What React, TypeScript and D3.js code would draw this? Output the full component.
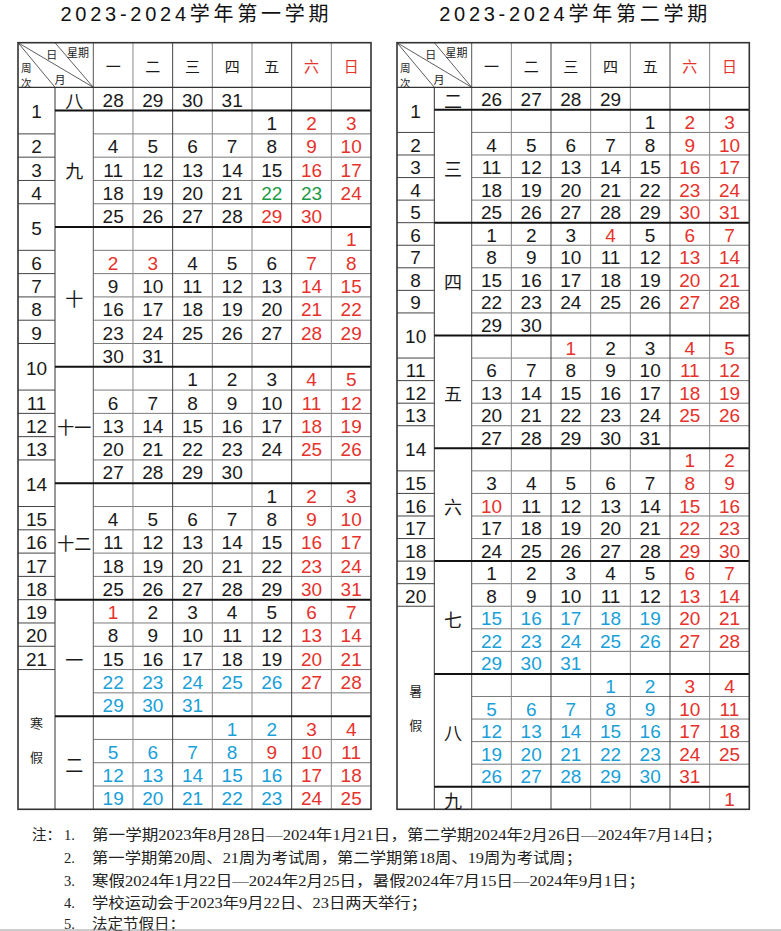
import React from "react";
import * as d3 from "d3";

// ---------- data ----------
const weekdayLabels = ["一", "二", "三", "四", "五", "六", "日"];
const redHeaderLabels = ["六", "日"];

const sem1Title = "2023-2024学年第一学期";
const sem1Months = ["八", "九", "十", "十一", "十二", "一", "二"];
const sem1FirstDay = [28, 1, 1, 1, 1, 1, 1];
const sem1LastDay = [31, 30, 31, 30, 31, 31, 25];
const sem1FirstCol = [0, 4, 6, 2, 4, 0, 3];
const sem1Red = [
  [],
  [2, 3, 9, 10, 16, 17, 24, 29, 30],
  [1, 2, 3, 7, 8, 14, 15, 21, 22, 28, 29],
  [4, 5, 11, 12, 18, 19, 25, 26],
  [2, 3, 9, 10, 16, 17, 23, 24, 30, 31],
  [1, 6, 7, 13, 14, 20, 21, 27, 28],
  [3, 4, 9, 10, 11, 17, 18, 24, 25],
];
const sem1Green = [[], [22, 23], [], [], [], [], []];
const sem1Blue = [
  [], [], [], [], [],
  [22, 23, 24, 25, 26, 29, 30, 31],
  [1, 2, 5, 6, 7, 8, 12, 13, 14, 15, 16, 19, 20, 21, 22, 23],
];
const sem1WeekLabels = ["1", "2", "3", "4", "5", "6", "7", "8", "9", "10", "11", "12", "13", "14", "15", "16", "17", "18", "19", "20", "21", "寒假"];
const sem1WeekSpans = [2, 1, 1, 1, 2, 1, 1, 1, 1, 2, 1, 1, 1, 2, 1, 1, 1, 1, 1, 1, 1, 6];

const sem2Title = "2023-2024学年第二学期";
const sem2Months = ["二", "三", "四", "五", "六", "七", "八", "九"];
const sem2FirstDay = [26, 1, 1, 1, 1, 1, 1, 1];
const sem2LastDay = [29, 31, 30, 31, 30, 31, 31, 1];
const sem2FirstCol = [0, 4, 0, 2, 5, 0, 3, 6];
const sem2Red = [
  [],
  [2, 3, 9, 10, 16, 17, 23, 24, 30, 31],
  [4, 6, 7, 13, 14, 20, 21, 27, 28],
  [1, 4, 5, 11, 12, 18, 19, 25, 26],
  [1, 2, 8, 9, 10, 15, 16, 22, 23, 29, 30],
  [6, 7, 13, 14, 20, 21, 27, 28],
  [3, 4, 10, 11, 17, 18, 24, 25, 31],
  [1],
];
const sem2Green = [[], [], [], [], [], [], [], []];
const sem2Blue = [
  [], [], [], [], [],
  [15, 16, 17, 18, 19, 22, 23, 24, 25, 26, 29, 30, 31],
  [1, 2, 5, 6, 7, 8, 9, 12, 13, 14, 15, 16, 19, 20, 21, 22, 23, 26, 27, 28, 29, 30],
  [],
];
const sem2WeekLabels = ["1", "2", "3", "4", "5", "6", "7", "8", "9", "10", "11", "12", "13", "14", "15", "16", "17", "18", "19", "20", "暑假"];
const sem2WeekSpans = [2, 1, 1, 1, 1, 1, 1, 1, 1, 2, 1, 1, 1, 2, 1, 1, 1, 1, 1, 1, 9];

const noteNumbers = ["1.", "2.", "3.", "4.", "5."];
const noteTexts = [
  "第一学期2023年8月28日—2024年1月21日，第二学期2024年2月26日—2024年7月14日；",
  "第一学期第20周、21周为考试周，第二学期第18周、19周为考试周；",
  "寒假2024年1月22日—2024年2月25日，暑假2024年7月15日—2024年9月1日；",
  "学校运动会于2023年9月22日、23日两天举行；",
  "法定节假日：",
];
const noteEnds = [722, 582, 645, 427, 185];

// ---------- styles ----------
const RED = "#e6322b";
const GREEN = "#1b9a46";
const BLUE = "#1a9fd8";
const BLACK = "#1a1a1a";
const NUM_FONT = "'Liberation Sans', Arial, Helvetica, sans-serif";
const CJK_FONT = "'Noto Sans CJK SC', 'Noto Sans', sans-serif";

const TOP = 42.7;
const HEADER_BOTTOM = 87.3;
const BOTTOM = 809.3;

type TableProps = {
  x0: number; xWeek: number; xMonth: number; x1: number;
  title: string; months: string[]; firstDay: number[]; lastDay: number[]; firstCol: number[];
  red: number[][]; green: number[][]; blue: number[][];
  weekLabels: string[]; weekSpans: number[];
};

function Table(p: TableProps) {
  const { x0, xWeek, xMonth, x1 } = p;
  let cursor = 0;
  const cells: { day: number; row: number; col: number; color: string }[] = [];
  const monthBlocks: { label: string; start: number; rows: number }[] = [];
  p.months.forEach((m, i) => {
    const days = d3.range(p.firstDay[i], p.lastDay[i] + 1);
    const nRows = Math.ceil((p.firstCol[i] + days.length) / 7);
    monthBlocks.push({ label: m, start: cursor, rows: nRows });
    days.forEach((d, k) => {
      const idx = p.firstCol[i] + k;
      let color = BLACK;
      if (p.red[i].includes(d)) color = RED;
      else if (p.green[i].includes(d)) color = GREEN;
      else if (p.blue[i].includes(d)) color = BLUE;
      cells.push({ day: d, row: cursor + Math.floor(idx / 7), col: idx % 7, color });
    });
    cursor += nRows;
  });
  const totalRows = cursor;
  const x = d3.scaleBand<number>().domain(d3.range(7)).range([xMonth, x1]);
  const y = d3.scaleLinear().domain([0, totalRows]).range([HEADER_BOTTOM, BOTTOM]);
  const bw = x.bandwidth();

  const monthBoundaries = new Set(monthBlocks.slice(1).map((b) => b.start));
  const weekBlocks: { label: string; start: number; rows: number }[] = [];
  let wc = 0;
  p.weekSpans.forEach((s, i) => {
    weekBlocks.push({ label: p.weekLabels[i], start: wc, rows: s });
    wc += s;
  });

  const cx = (x0 + x1) / 2;
  return (
    <g>
      <text x={cx} y={21} textAnchor="middle" fontFamily={`${NUM_FONT}, ${CJK_FONT}`} fontSize={20} fill="#111"
        textLength={268} lengthAdjust="spacing">{p.title}</text>

      {d3.range(1, totalRows).filter((r) => !monthBoundaries.has(r)).map((r) => (
        <line key={"h" + r} x1={xMonth} x2={x1} y1={y(r)} y2={y(r)} stroke="#7a7a7a" strokeWidth={1} />
      ))}
      {d3.range(1, 7).map((c) => (
        <line key={"v" + c} x1={x(c)} x2={x(c)} y1={TOP} y2={BOTTOM} stroke={c === 2 || c === 5 ? "#444" : "#888"} strokeWidth={1} />
      ))}
      <line x1={xMonth} x2={xMonth} y1={TOP} y2={BOTTOM} stroke="#555" strokeWidth={1} />
      <line x1={xWeek} x2={xWeek} y1={HEADER_BOTTOM} y2={BOTTOM} stroke="#333" strokeWidth={1} />
      {weekBlocks.slice(1).map((w) => (
        <line key={"w" + w.start} x1={x0} x2={xWeek} y1={y(w.start)} y2={y(w.start)} stroke="#444" strokeWidth={1} />
      ))}
      {monthBlocks.slice(1).map((b) => (
        <line key={"m" + b.start} x1={xWeek} x2={x1} y1={y(b.start)} y2={y(b.start)} stroke="#111" strokeWidth={2} />
      ))}
      <line x1={x0} x2={x1} y1={HEADER_BOTTOM} y2={HEADER_BOTTOM} stroke="#333" strokeWidth={1.2} />
      <rect x={x0} y={TOP} width={x1 - x0} height={BOTTOM - TOP} fill="none" stroke="#333" strokeWidth={1.6} />

      <line x1={x0} y1={TOP} x2={xWeek} y2={HEADER_BOTTOM} stroke="#333" strokeWidth={0.8} />
      <line x1={x0} y1={TOP} x2={xMonth} y2={HEADER_BOTTOM} stroke="#333" strokeWidth={0.8} />
      <line x1={xWeek} y1={TOP} x2={xMonth} y2={HEADER_BOTTOM} stroke="#333" strokeWidth={0.8} />
      <g fontFamily={CJK_FONT} fontSize={11} fill="#222" textAnchor="middle" dominantBaseline="central">
        <text x={x0 + 33.7} y={53.5}>日</text>
        <text x={xMonth - 15.3} y={51.5}>星期</text>
        <text x={x0 + 42} y={78.5}>月</text>
      </g>
      <g fontFamily={CJK_FONT} fontSize={10.5} fill="#222" textAnchor="middle" dominantBaseline="central">
        <text x={x0 + 8.2} y={67.2}>周</text>
        <text x={x0 + 8.2} y={82.7}>次</text>
      </g>
      {weekdayLabels.map((w, i) => (
        <text key={"wd" + i} x={(x(i) as number) + bw / 2} y={65.5} textAnchor="middle" dominantBaseline="central"
          fontFamily={CJK_FONT} fontSize={15} fill={redHeaderLabels.includes(w) ? RED : BLACK}>{w}</text>
      ))}

      {weekBlocks.map((w) => {
        const mid = (y(w.start) + y(w.start + w.rows)) / 2;
        if (/^\d+$/.test(w.label)) {
          return (
            <text key={"wl" + w.start} x={(x0 + xWeek) / 2} y={mid + 7.8} textAnchor="middle"
              fontFamily={NUM_FONT} fontSize={19} fill={BLACK}>{w.label}</text>
          );
        }
        const chars = w.label.split("");
        return chars.map((ch, k) => (
          <text key={"wl" + w.start + k} x={(x0 + xWeek) / 2} y={mid + (k - (chars.length - 1) / 2) * 34}
            textAnchor="middle" dominantBaseline="central" fontFamily={CJK_FONT} fontSize={13} fill="#222">{ch}</text>
        ));
      })}

      {monthBlocks.map((b) => (
        <text key={"ml" + b.start} x={(xWeek + xMonth) / 2} y={(y(b.start) + y(b.start + b.rows)) / 2 + 1.5}
          textAnchor="middle" dominantBaseline="central" fontFamily={CJK_FONT} fontSize={b.label.length > 1 ? 17 : 18}
          fill={BLACK}>{b.label}</text>
      ))}

      {cells.map((c, i) => (
        <text key={"d" + i} x={(x(c.col) as number) + bw / 2} y={(y(c.row) + y(c.row + 1)) / 2 + 7.8}
          textAnchor="middle" fontFamily={NUM_FONT} fontSize={19} fill={c.color}>{c.day}</text>
      ))}
    </g>
  );
}

export default function App() {
  const noteY = [840, 863, 886, 908, 929];
  return (
    <svg width={781} height={931} viewBox="0 0 781 931"
      style={{ position: "absolute", left: 0, top: 0, background: "#fff", display: "block" }}>
      <rect x={0} y={0} width={781} height={931} fill="#fff" />
      <Table x0={18} xWeek={55} xMonth={93.3} x1={371} title={sem1Title} months={sem1Months}
        firstDay={sem1FirstDay} lastDay={sem1LastDay} firstCol={sem1FirstCol}
        red={sem1Red} green={sem1Green} blue={sem1Blue} weekLabels={sem1WeekLabels} weekSpans={sem1WeekSpans} />
      <Table x0={397} xWeek={434.3} xMonth={471.7} x1={749.3} title={sem2Title} months={sem2Months}
        firstDay={sem2FirstDay} lastDay={sem2LastDay} firstCol={sem2FirstCol}
        red={sem2Red} green={sem2Green} blue={sem2Blue} weekLabels={sem2WeekLabels} weekSpans={sem2WeekSpans} />

      <g fontFamily={`'Liberation Serif', ${CJK_FONT}`} fontSize={14.5} fill="#222">
        <text x={32} y={noteY[0]}>注：</text>
        {noteTexts.map((t, i) => (
          <g key={"n" + i}>
            <text x={64} y={noteY[i]}>{noteNumbers[i]}</text>
            <text x={92} y={noteY[i]} textLength={noteEnds[i] - 92} lengthAdjust="spacingAndGlyphs">{t}</text>
          </g>
        ))}
      </g>
      <line x1={0} x2={781} y1={930} y2={930} stroke="#999" strokeWidth={1} />
    </svg>
  );
}
